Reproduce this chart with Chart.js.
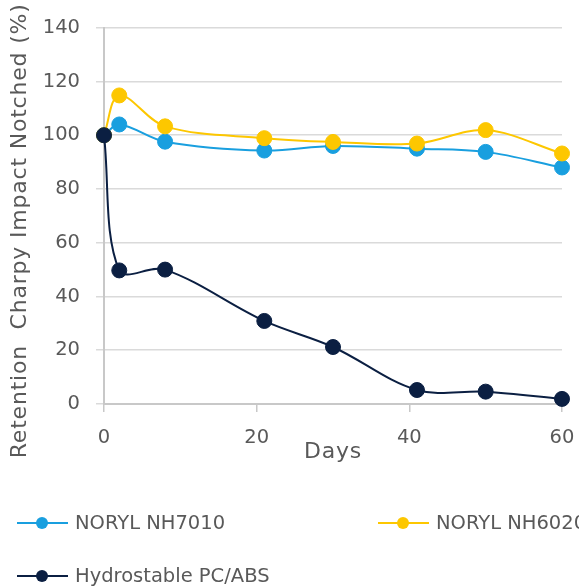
<!DOCTYPE html>
<html>
<head>
<meta charset="utf-8">
<script src="https://cdn.jsdelivr.net/npm/chart.js@4.4.1/dist/chart.umd.min.js"></script>
<style>
  html, body { margin: 0; padding: 0; background: #fff; overflow: hidden; }
  #wrap { position: relative; width: 579px; height: 587px; overflow: hidden; }
  canvas { position: absolute; left: 0; top: 0; }
  .leg { position: absolute; font-family: "DejaVu Sans", sans-serif; font-size: 19.5px; color: #595959; white-space: nowrap; line-height: 24px; }
  .leg .ln { position: absolute; top: 11px; height: 2px; width: 51px; left: 0; }
  .leg .dot { position: absolute; top: 6px; left: 19px; width: 12px; height: 12px; border-radius: 50%; }
  .leg .tx { position: absolute; left: 58px; top: 0; }
</style>
</head>
<body>
<div id="wrap">
  <canvas id="c" width="579" height="587"></canvas>
  <div id="legend"></div>
</div>
<script>
const days = [0, 2, 8, 21, 30, 41, 50, 60];
const seriesNames = ["NORYL NH7010", "NORYL NH6020", "Hydrostable PC/ABS"];
const nh7010 = [100, 104, 97.6, 94.3, 96, 95, 93.8, 88];
const nh6020 = [100, 114.8, 103.3, 98.9, 97.5, 96.9, 101.9, 93.2];
const pcabs = [100, 49.7, 50, 30.9, 21.2, 5.2, 4.6, 1.9];
const colors = ["#199fdf", "#fdc700", "#0b1f42"];
const yTicks = [0, 20, 40, 60, 80, 100, 120, 140];
const xTicks = [0, 20, 40, 60];
const yTitle = "Retention  Charpy Impact Notched (%)";
const xTitle = "Days";

const FONT = "'DejaVu Sans', sans-serif";
const TXT = "#595959";

function mk(vals, i, order) {
  return {
    label: seriesNames[i],
    data: days.map((d, k) => ({ x: d, y: vals[k] })),
    borderColor: colors[i],
    backgroundColor: colors[i],
    pointBackgroundColor: colors[i],
    pointBorderColor: colors[i],
    pointRadius: 7.5,
    pointHoverRadius: 7.5,
    pointBorderWidth: 1,
    borderWidth: 2,
    tension: 0.35,
    clip: false,
    order: order
  };
}

// Title styling: slight letter spacing, and a downward offset for the y title
const titleStyle = {
  id: 'titleStyle',
  beforeDraw(chart) {
    Object.values(chart.scales).forEach(s => {
      if (s._wrappedTitle) return;
      const orig = s.drawTitle;
      s.drawTitle = function () {
        const ctx = this.ctx;
        ctx.save();
        ctx.letterSpacing = '0.8px';
        if (this.axis === 'y') ctx.translate(0, 15);
        orig.call(this);
        ctx.restore();
      };
      s._wrappedTitle = true;
    });
  }
};

new Chart(document.getElementById('c'), {
  type: 'line',
  data: {
    datasets: [mk(nh7010, 0, 2), mk(nh6020, 1, 1), mk(pcabs, 2, 0)]
  },
  plugins: [titleStyle],
  options: {
    responsive: false,
    animation: false,
    events: [],
    layout: { padding: { top: 26, right: 17, bottom: 117, left: 0 } },
    plugins: { legend: { display: false }, tooltip: { enabled: false } },
    scales: {
      x: {
        type: 'linear',
        min: 0, max: 60,
        afterBuildTicks: s => { s.ticks = xTicks.map(v => ({ value: v })); },
        afterFit: s => { s.height = 66; s.paddingLeft = 0; s.paddingRight = 0; },
        ticks: { font: { family: FONT, size: 19.5 }, color: TXT, padding: 14, maxRotation: 0 },
        grid: { drawOnChartArea: false, drawTicks: true, tickLength: 8, color: '#c8c8c8', lineWidth: 1.5 },
        border: { color: '#c8c8c8', width: 2 },
        title: { display: true, text: xTitle, font: { family: FONT, size: 22 }, color: TXT, padding: { top: 0, bottom: 5 } }
      },
      y: {
        min: 0, max: 140,
        afterBuildTicks: s => { s.ticks = yTicks.map(v => ({ value: v })); },
        afterFit: s => { s.width = 104; },
        ticks: { font: { family: FONT, size: 19.5 }, color: TXT, padding: 16 },
        grid: { color: '#dadada', lineWidth: 1.5, tickLength: 8, drawTicks: true },
        border: { color: '#c8c8c8', width: 2 },
        title: { display: true, text: yTitle, font: { family: FONT, size: 22 }, color: TXT, padding: { top: 7, bottom: 0 } }
      }
    }
  }
});

// HTML legend
const legPos = [ { x: 17, y: 511 }, { x: 378, y: 511 }, { x: 17, y: 564 } ];
const leg = document.getElementById('legend');
seriesNames.forEach((n, i) => {
  const d = document.createElement('div');
  d.className = 'leg';
  d.style.left = legPos[i].x + 'px';
  d.style.top = legPos[i].y + 'px';
  d.innerHTML = '<div class="ln" style="background:' + colors[i] + '"></div><div class="dot" style="background:' + colors[i] + '"></div><div class="tx">' + n + '</div>';
  leg.appendChild(d);
});
</script>
</body>
</html>
